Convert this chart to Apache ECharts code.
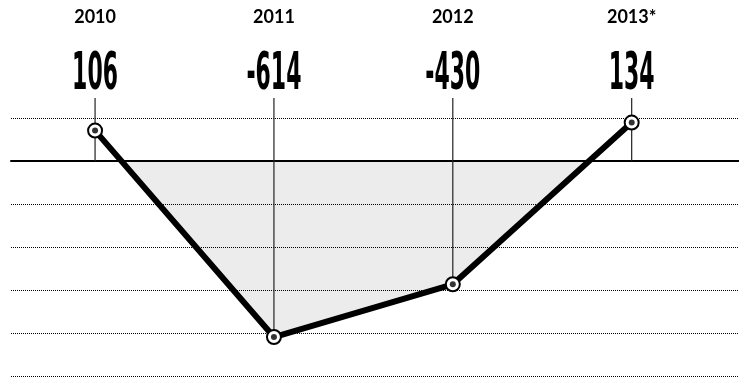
<!DOCTYPE html>
<html><head><meta charset="utf-8">
<script src="https://cdn.jsdelivr.net/npm/echarts@6/dist/echarts.min.js"></script>
<style>html,body{margin:0;padding:0;background:#fff}#c{width:739px;height:378px}</style>
</head><body><div id="c"></div>
<script>
const years = ['2010', '2011', '2012', '2013*'];
const values = [106, -614, -430, 134];
const yTicks = {min: -750, max: 150, interval: 150};
const stemTop = 220;

const pts = values.map((v, i) => [i, v]);
const chart = echarts.init(document.getElementById('c'));
chart.setOption({
  animation: false,
  grid: {left: 11, right: 0, top: 118, bottom: 2},
  xAxis: {type: 'value', min: -0.47, max: 3.6, axisLine: {onZero: true, lineStyle: {color: '#000', width: 2}},
    axisTick: {show: false}, axisLabel: {show: false}, splitLine: {show: false}},
  yAxis: {type: 'value', min: yTicks.min, max: yTicks.max, interval: yTicks.interval,
    axisLine: {show: false}, axisTick: {show: false}, axisLabel: {show: false},
    splitLine: {lineStyle: {type: [1, 1], color: '#000', width: 1}}},
  visualMap: {show: false, type: 'piecewise', dimension: 1, seriesIndex: 1,
    pieces: [{gte: -2000, lt: 0, color: 'rgba(0,0,0,0.075)'}, {gte: 0, lte: 2000, color: 'rgba(255,255,255,0)'}],
    outOfRange: {color: 'rgba(255,255,255,0)'}},
  series: [
    {type: 'custom', z: 1, data: pts, renderItem: function (p, api) {
      const i = api.value(0), v = api.value(1);
      const a = api.coord([i, stemTop]), b = api.coord([i, Math.min(0, v)]);
      return {type: 'line', shape: {x1: a[0], y1: a[1], x2: b[0], y2: b[1]}, style: {stroke: '#222', lineWidth: 1.2}};
    }},
    {type: 'line', z: 0, data: pts, symbol: 'none', lineStyle: {width: 0, opacity: 0}, areaStyle: {opacity: 1}},
    {type: 'line', z: 3, data: pts, symbol: 'circle', symbolSize: 14,
      lineStyle: {color: '#000', width: 6, join: 'round'},
      itemStyle: {color: '#fff', borderColor: '#000', borderWidth: 2}},
    {type: 'scatter', z: 4, data: pts, symbolSize: 6, itemStyle: {color: '#000'}},
    {type: 'custom', z: 5, data: pts, renderItem: function (p, api) {
      const i = api.value(0), v = api.value(1);
      const c = api.coord([i, 0]);
      return {type: 'group', children: [
        {type: 'text', x: c[0], y: 17, style: {text: years[i], font: 'bold 18px Lato, "Open Sans", sans-serif', fill: '#000', align: 'center', verticalAlign: 'middle'}},
        {type: 'text', x: c[0], y: 75, scaleX: 0.47, style: {text: String(v), font: 'bold 52px "Liberation Sans Narrow", "DejaVu Sans Condensed", sans-serif', fill: '#000', align: 'center', verticalAlign: 'middle'}}
      ]};
    }}
  ]
});
</script></body></html>
